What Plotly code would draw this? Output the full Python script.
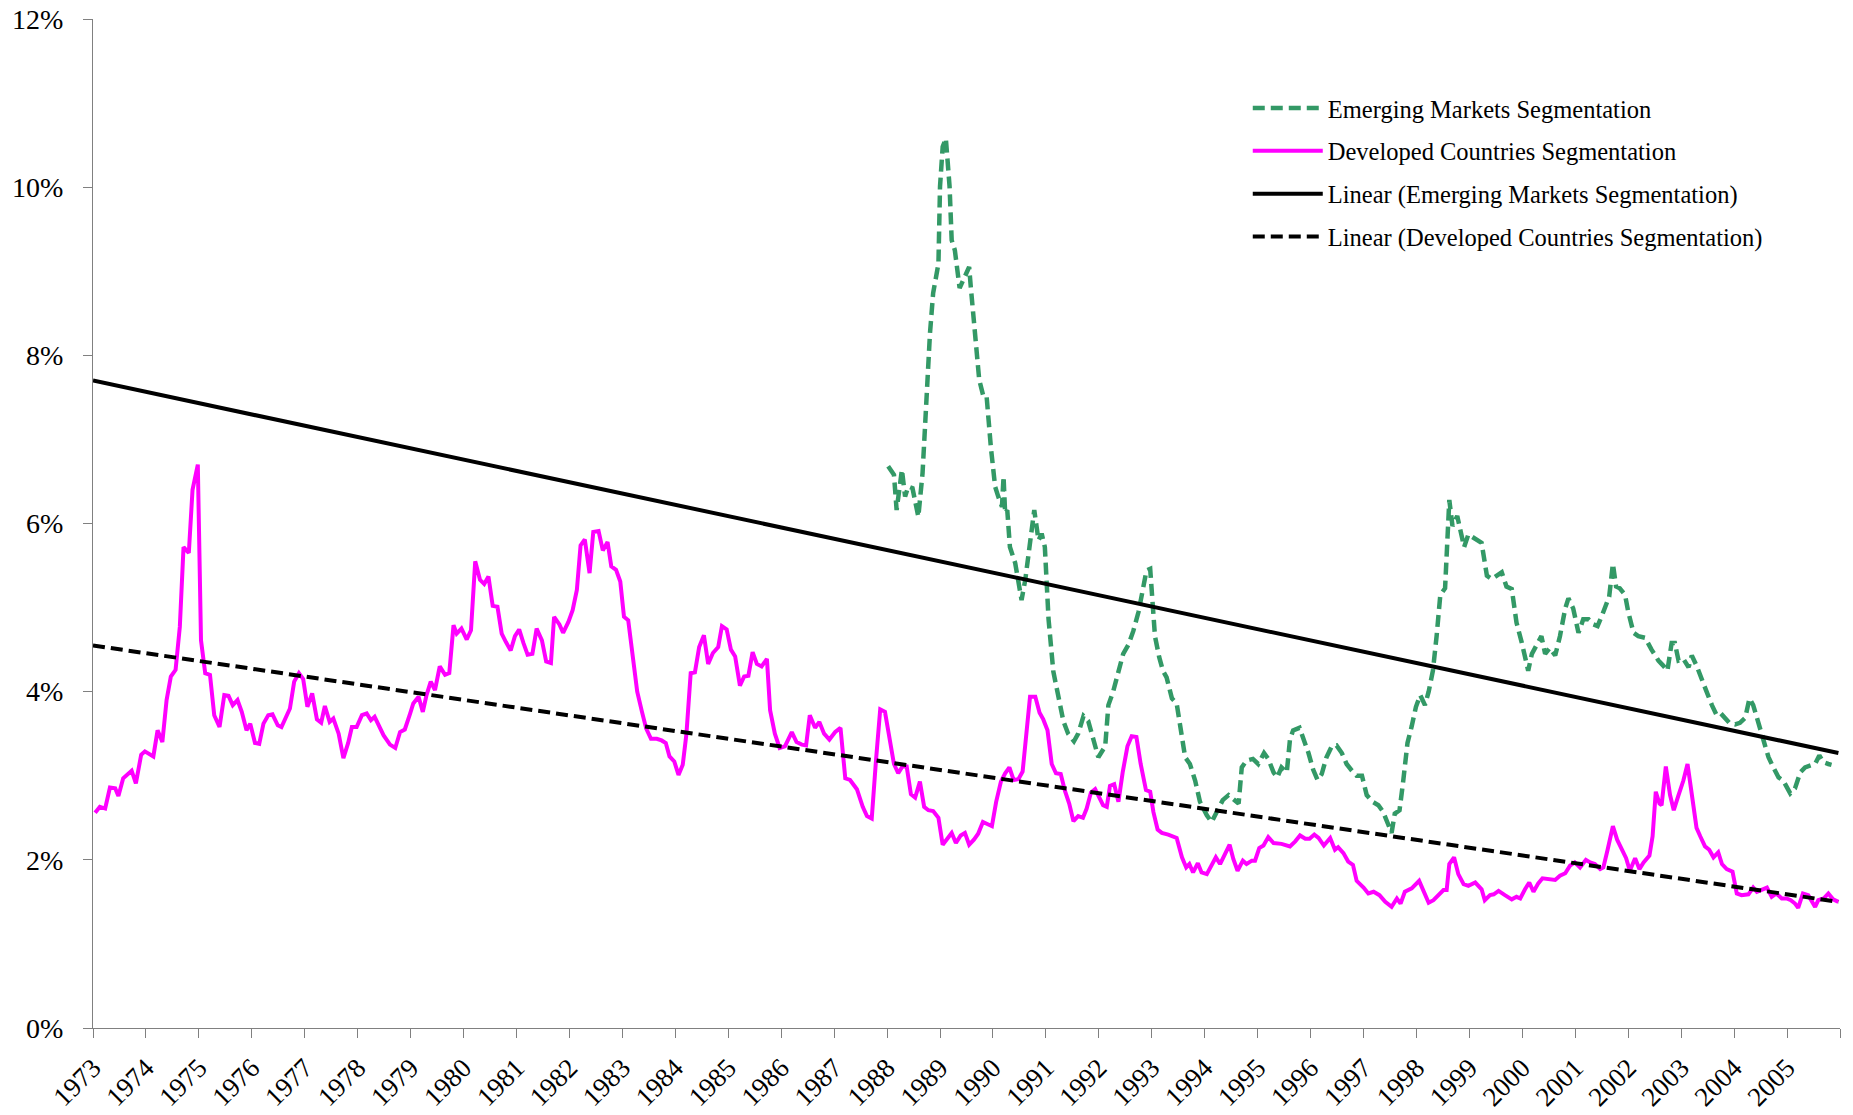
import plotly.graph_objects as go

# ---------------- data ----------------
dev_dates = [
    1973.04, 1973.13, 1973.23, 1973.32, 1973.42, 1973.48, 1973.57, 1973.73, 1973.81, 1973.91, 1973.98,
    1974.14, 1974.22, 1974.31, 1974.39, 1974.47, 1974.56, 1974.64, 1974.71, 1974.81, 1974.88, 1974.98,
    1975.04, 1975.12, 1975.21, 1975.29, 1975.39, 1975.48, 1975.56, 1975.64, 1975.73, 1975.81, 1975.90, 1975.97,
    1976.06, 1976.14, 1976.22, 1976.31, 1976.39, 1976.49, 1976.56, 1976.66, 1976.72, 1976.80, 1976.89, 1976.97,
    1977.05, 1977.14, 1977.23, 1977.31, 1977.38, 1977.47, 1977.54, 1977.64, 1977.73, 1977.82, 1977.89, 1977.98,
    1978.08, 1978.17, 1978.25, 1978.32, 1978.49, 1978.61, 1978.71, 1978.80, 1978.89, 1978.99,
    1979.05, 1979.15, 1979.23, 1979.30, 1979.38, 1979.46, 1979.55, 1979.65, 1979.73, 1979.81, 1979.87, 1979.96,
    1980.06, 1980.14, 1980.22, 1980.31, 1980.39, 1980.47, 1980.55, 1980.64, 1980.72, 1980.80, 1980.89, 1980.97,
    1981.05, 1981.13, 1981.21, 1981.30, 1981.38, 1981.48, 1981.56, 1981.65, 1981.71, 1981.81, 1981.88, 1981.98,
    1982.06, 1982.14, 1982.21, 1982.29, 1982.38, 1982.45, 1982.55, 1982.63, 1982.72, 1982.79, 1982.88, 1982.96,
    1983.03, 1983.11, 1983.19, 1983.28, 1983.37, 1983.45, 1983.54, 1983.65, 1983.74, 1983.82, 1983.89, 1983.98,
    1984.06, 1984.14, 1984.21, 1984.29, 1984.37, 1984.45, 1984.54, 1984.62, 1984.71, 1984.81, 1984.88, 1984.97,
    1985.05, 1985.13, 1985.22, 1985.30, 1985.38, 1985.46, 1985.54, 1985.63, 1985.73, 1985.79, 1985.88, 1985.97,
    1986.07, 1986.20, 1986.29, 1986.39, 1986.47, 1986.54, 1986.64, 1986.72, 1986.81, 1986.91,
    1987.02, 1987.12, 1987.21, 1987.30, 1987.43, 1987.54, 1987.62, 1987.71, 1987.79, 1987.87, 1987.96,
    1988.06, 1988.13, 1988.21, 1988.29, 1988.37, 1988.45, 1988.53, 1988.62, 1988.70, 1988.78, 1988.87, 1988.97,
    1989.05, 1989.14, 1989.22, 1989.30, 1989.39, 1989.47, 1989.55, 1989.64, 1989.72, 1989.81, 1989.89, 1989.98,
    1990.06, 1990.15, 1990.23, 1990.31, 1990.39, 1990.48, 1990.56, 1990.63, 1990.70, 1990.80, 1990.88, 1990.95,
    1991.03, 1991.11, 1991.19, 1991.28, 1991.36, 1991.44, 1991.52, 1991.61, 1991.70, 1991.77, 1991.85, 1991.93,
    1992.08, 1992.15, 1992.21, 1992.29, 1992.37, 1992.45, 1992.54, 1992.62, 1992.71, 1992.79, 1992.89, 1992.97,
    1993.03, 1993.11, 1993.19, 1993.31, 1993.47, 1993.57, 1993.65, 1993.71, 1993.78, 1993.87, 1993.94,
    1994.04, 1994.13, 1994.21, 1994.29, 1994.36, 1994.47, 1994.54, 1994.62, 1994.72, 1994.79, 1994.89, 1994.95,
    1995.03, 1995.11, 1995.20, 1995.30, 1995.45, 1995.61, 1995.71, 1995.80, 1995.90, 1995.98,
    1996.07, 1996.15, 1996.25, 1996.37, 1996.46, 1996.52, 1996.62, 1996.71, 1996.80, 1996.87,
    1997.00, 1997.09, 1997.19, 1997.30, 1997.41, 1997.53, 1997.63, 1997.70, 1997.78, 1997.91,
    1998.05, 1998.13, 1998.23, 1998.32, 1998.41, 1998.51, 1998.57, 1998.62, 1998.71, 1998.79, 1998.89, 1998.98,
    1999.11, 1999.23, 1999.29, 1999.39, 1999.46, 1999.55, 1999.67, 1999.80, 1999.89, 1999.96,
    2000.05, 2000.13, 2000.21, 2000.30, 2000.38, 2000.49, 2000.62, 2000.71, 2000.81, 2000.90, 2000.99,
    2001.09, 2001.20, 2001.28, 2001.37, 2001.47, 2001.53, 2001.61, 2001.71, 2001.79, 2001.88, 2001.96,
    2002.03, 2002.13, 2002.21, 2002.29, 2002.40, 2002.46, 2002.52, 2002.59, 2002.63, 2002.71, 2002.79, 2002.86, 2002.95,
    2003.04, 2003.12, 2003.20, 2003.29, 2003.36, 2003.45, 2003.53, 2003.61, 2003.70, 2003.77, 2003.86, 2003.97,
    2004.05, 2004.14, 2004.27, 2004.36, 2004.43, 2004.52, 2004.62, 2004.71, 2004.80, 2004.90, 2004.99,
    2005.07, 2005.15, 2005.21, 2005.30, 2005.40, 2005.47, 2005.53, 2005.59, 2005.69, 2005.78, 2005.87, 2005.97,
]
dev_values = [
    2.56, 2.63, 2.61, 2.86, 2.85, 2.76, 2.97, 3.06, 2.91, 3.25, 3.29,
    3.23, 3.54, 3.40, 3.90, 4.18, 4.26, 4.77, 5.72, 5.65, 6.40, 6.70,
    4.61, 4.22, 4.20, 3.72, 3.58, 3.96, 3.95, 3.84, 3.90, 3.76, 3.54, 3.62,
    3.39, 3.38, 3.62, 3.72, 3.73, 3.60, 3.58, 3.72, 3.80, 4.12, 4.22, 4.15,
    3.82, 3.98, 3.67, 3.63, 3.83, 3.64, 3.68, 3.50, 3.21, 3.39, 3.58, 3.58,
    3.72, 3.74, 3.66, 3.70, 3.48, 3.37, 3.33, 3.52, 3.55, 3.74,
    3.86, 3.94, 3.76, 3.96, 4.12, 4.02, 4.30, 4.20, 4.22, 4.79, 4.69, 4.75,
    4.62, 4.73, 5.55, 5.33, 5.28, 5.37, 5.02, 5.01, 4.69, 4.59, 4.49, 4.66,
    4.74, 4.58, 4.44, 4.45, 4.75, 4.61, 4.36, 4.34, 4.89, 4.80, 4.70, 4.83,
    4.97, 5.21, 5.74, 5.81, 5.41, 5.90, 5.91, 5.68, 5.78, 5.49, 5.45, 5.31,
    4.89, 4.85, 4.42, 4.00, 3.76, 3.56, 3.44, 3.44, 3.42, 3.39, 3.23, 3.17,
    3.01, 3.13, 3.50, 4.22, 4.23, 4.53, 4.67, 4.33, 4.46, 4.53, 4.78, 4.74,
    4.50, 4.42, 4.07, 4.18, 4.19, 4.47, 4.33, 4.30, 4.39, 3.78, 3.50, 3.33,
    3.35, 3.52, 3.40, 3.37, 3.36, 3.72, 3.57, 3.64, 3.50, 3.43,
    3.52, 3.57, 2.97, 2.95, 2.84, 2.63, 2.52, 2.49, 3.18, 3.79, 3.76,
    3.39, 3.14, 3.03, 3.11, 3.11, 2.78, 2.74, 2.93, 2.63, 2.59, 2.58, 2.50,
    2.18, 2.25, 2.32, 2.20, 2.29, 2.32, 2.18, 2.24, 2.31, 2.45, 2.42, 2.40,
    2.69, 2.93, 3.03, 3.10, 2.95, 2.96, 3.05, 3.48, 3.94, 3.94, 3.75, 3.67,
    3.54, 3.14, 3.03, 3.02, 2.82, 2.67, 2.46, 2.52, 2.50, 2.61, 2.80, 2.84,
    2.65, 2.63, 2.88, 2.90, 2.69, 3.04, 3.35, 3.47, 3.46, 3.14, 2.83, 2.81,
    2.57, 2.36, 2.32, 2.30, 2.26, 2.03, 1.91, 1.95, 1.85, 1.96, 1.85,
    1.83, 1.93, 2.03, 1.95, 2.05, 2.18, 2.01, 1.87, 1.99, 1.95, 1.99, 1.99,
    2.14, 2.17, 2.27, 2.20, 2.19, 2.16, 2.22, 2.29, 2.25, 2.25,
    2.30, 2.26, 2.17, 2.26, 2.12, 2.15, 2.08, 1.98, 1.94, 1.75,
    1.67, 1.60, 1.62, 1.58, 1.50, 1.44, 1.54, 1.48, 1.62, 1.66,
    1.75, 1.62, 1.49, 1.52, 1.58, 1.64, 1.64, 1.95, 2.03, 1.83, 1.71, 1.69,
    1.73, 1.65, 1.52, 1.58, 1.59, 1.63, 1.58, 1.53, 1.56, 1.54,
    1.65, 1.73, 1.62, 1.72, 1.78, 1.77, 1.76, 1.81, 1.84, 1.93, 1.97,
    1.91, 2.00, 1.97, 1.95, 1.89, 1.91, 2.12, 2.40, 2.24, 2.12, 2.02,
    1.87, 2.02, 1.89, 1.97, 2.05, 2.28, 2.81, 2.67, 2.65, 3.11, 2.77, 2.59, 2.77,
    2.94, 3.14, 2.77, 2.38, 2.28, 2.16, 2.12, 2.03, 2.09, 1.95, 1.89, 1.86,
    1.60, 1.58, 1.59, 1.67, 1.62, 1.65, 1.67, 1.56, 1.60, 1.54, 1.54,
    1.52, 1.48, 1.43, 1.60, 1.58, 1.50, 1.44, 1.52, 1.54, 1.60, 1.53, 1.50,
]

em_dates = [
    1988.02, 1988.13, 1988.18, 1988.28, 1988.34, 1988.40, 1988.48, 1988.56, 1988.59, 1988.67, 1988.72, 1988.76,
    1988.81, 1988.87, 1988.97, 1989.00, 1989.05, 1989.11, 1989.18, 1989.22, 1989.28, 1989.37, 1989.47, 1989.55,
    1989.58, 1989.66, 1989.74, 1989.82, 1989.88, 1989.96, 1990.04, 1990.10, 1990.17, 1990.20, 1990.23, 1990.27,
    1990.32, 1990.42, 1990.54, 1990.61, 1990.70, 1990.78, 1990.86, 1990.92, 1990.98, 1991.05,
    1991.14, 1991.24, 1991.33, 1991.42, 1991.53, 1991.61, 1991.71, 1991.80, 1991.90, 1991.99,
    1992.12, 1992.18, 1992.27, 1992.37, 1992.46, 1992.56, 1992.65, 1992.75, 1992.84, 1992.90, 1992.97,
    1993.00, 1993.06, 1993.14, 1993.21, 1993.28, 1993.38, 1993.47, 1993.53, 1993.63, 1993.72, 1993.82, 1993.91,
    1994.04, 1994.13, 1994.23, 1994.34, 1994.45, 1994.54, 1994.64, 1994.70, 1994.79, 1994.91,
    1995.01, 1995.12, 1995.20, 1995.30, 1995.37, 1995.45, 1995.55, 1995.61, 1995.67, 1995.79, 1995.88, 1995.96,
    1996.05, 1996.13, 1996.21, 1996.30, 1996.40, 1996.49, 1996.59, 1996.68, 1996.78, 1996.87, 1996.97,
    1997.06, 1997.17, 1997.28, 1997.37, 1997.47, 1997.53, 1997.59, 1997.68, 1997.75, 1997.83, 1997.91, 1997.99,
    1998.07, 1998.16, 1998.23, 1998.31, 1998.38, 1998.45, 1998.54, 1998.58, 1998.62, 1998.68, 1998.77, 1998.84,
    1998.90, 1998.98, 1999.11, 1999.23, 1999.33, 1999.42, 1999.61, 1999.70, 1999.80, 1999.89, 1999.99,
    2000.11, 2000.18, 2000.27, 2000.36, 2000.43, 2000.52, 2000.62, 2000.71, 2000.81, 2000.87, 2000.96,
    2001.06, 2001.15, 2001.25, 2001.34, 2001.42, 2001.50, 2001.56, 2001.64, 2001.71, 2001.77, 2001.84, 2001.94,
    2002.00, 2002.10, 2002.19, 2002.32, 2002.44, 2002.57, 2002.66, 2002.74, 2002.82, 2002.88, 2002.95,
    2003.04, 2003.14, 2003.20, 2003.29, 2003.39, 2003.48, 2003.58, 2003.67, 2003.75, 2003.83, 2003.91,
    2004.02, 2004.11, 2004.21, 2004.29, 2004.36, 2004.46, 2004.55, 2004.65, 2004.74, 2004.84, 2004.93, 2004.99,
    2005.06, 2005.15, 2005.25, 2005.34, 2005.43, 2005.53, 2005.61, 2005.69, 2005.78, 2005.84,
]
em_values = [
    6.68, 6.58, 6.16, 6.64, 6.32, 6.44, 6.42, 6.12, 6.08, 6.60, 7.23, 7.79,
    8.26, 8.74, 9.09, 10.01, 10.48, 10.58, 10.01, 9.37, 9.25, 8.80, 8.94, 9.05,
    8.82, 8.22, 7.71, 7.51, 7.51, 6.91, 6.44, 6.32, 6.20, 6.56, 6.12, 6.16,
    5.72, 5.53, 5.09, 5.33, 5.77, 6.16, 5.80, 5.88, 5.72, 4.86,
    4.24, 3.94, 3.65, 3.50, 3.41, 3.50, 3.71, 3.65, 3.43, 3.22,
    3.35, 3.84, 4.00, 4.25, 4.45, 4.56, 4.72, 4.95, 5.23, 5.44, 5.46,
    5.15, 4.66, 4.41, 4.25, 4.17, 3.92, 3.86, 3.59, 3.22, 3.14, 2.94, 2.69,
    2.53, 2.45, 2.57, 2.71, 2.77, 2.73, 2.67, 3.10, 3.18, 3.20,
    3.14, 3.27, 3.20, 3.04, 2.98, 3.10, 3.04, 3.43, 3.54, 3.57, 3.43, 3.27,
    3.07, 2.95, 3.02, 3.22, 3.35, 3.36, 3.27, 3.14, 3.06, 3.00, 3.00,
    2.77, 2.69, 2.65, 2.57, 2.42, 2.32, 2.55, 2.59, 2.94, 3.39, 3.59, 3.82,
    3.96, 3.84, 4.00, 4.25, 4.66, 5.15, 5.23, 5.81, 6.28, 5.97, 6.09, 5.89,
    5.72, 5.87, 5.81, 5.77, 5.38, 5.34, 5.42, 5.25, 5.22, 4.82, 4.58,
    4.25, 4.45, 4.56, 4.66, 4.45, 4.52, 4.43, 4.66, 4.99, 5.11, 4.99,
    4.70, 4.86, 4.86, 4.80, 4.78, 4.90, 5.00, 5.13, 5.52, 5.25, 5.23, 5.15,
    4.95, 4.70, 4.66, 4.64, 4.50, 4.37, 4.31, 4.25, 4.58, 4.58, 4.37,
    4.39, 4.29, 4.43, 4.31, 4.13, 4.00, 3.84, 3.72, 3.74, 3.68, 3.63,
    3.61, 3.63, 3.69, 3.92, 3.84, 3.61, 3.43, 3.22, 3.10, 2.98, 2.94, 2.88,
    2.79, 2.85, 3.04, 3.10, 3.12, 3.14, 3.24, 3.16, 3.14, 3.13,
]

# Linear trend lines (end points)
trend_dates = [1973.0, 2005.97]
em_trend = [7.70, 3.27]
dev_trend = [4.55, 1.50]

year_ticks = list(range(1973, 2007))
year_labels = [str(y) for y in range(1973, 2006)] + [""]
y_ticks = [0, 2, 4, 6, 8, 10, 12]
y_labels = ["0%", "2%", "4%", "6%", "8%", "10%", "12%"]

# ---------------- figure ----------------
FONT = "Liberation Serif, Times New Roman, serif"
fig = go.Figure()

fig.add_trace(go.Scatter(
    x=em_dates, y=em_values, mode="lines", name="Emerging Markets Segmentation",
    legendgroup="a",
    line=dict(color="#339966", width=4.5, dash="12px,6px")))
fig.add_trace(go.Scatter(
    x=dev_dates, y=dev_values, mode="lines", name="Developed Countries Segmentation",
    legendgroup="b",
    line=dict(color="#FF00FF", width=4)))
fig.add_trace(go.Scatter(
    x=trend_dates, y=em_trend, mode="lines", name="Linear (Emerging Markets Segmentation)",
    legendgroup="c",
    line=dict(color="#000000", width=4)))
fig.add_trace(go.Scatter(
    x=trend_dates, y=dev_trend, mode="lines", name="Linear (Developed Countries Segmentation)",
    legendgroup="d",
    line=dict(color="#000000", width=4, dash="12px,6px")))

fig.update_layout(
    template="none",
    width=1845, height=1107,
    margin=dict(l=85, r=13, t=11, b=87, autoexpand=False),
    paper_bgcolor="white", plot_bgcolor="white",
    font=dict(family=FONT, size=28, color="black"),
    showlegend=True,
    legend=dict(
        x=0.661, y=0.934, xanchor="left", yanchor="top",
        font=dict(family=FONT, size=24.5, color="black"),
        bgcolor="rgba(0,0,0,0)", borderwidth=0,
        itemwidth=70, tracegroupgap=8,
    ),
    xaxis=dict(
        range=[1973, 2006], tickmode="array", tickvals=year_ticks, ticktext=year_labels,
        tickangle=-45, ticks="outside", ticklen=9, tickwidth=1.3, tickcolor="#808080",
        showline=True, linecolor="#808080", linewidth=1.3, showgrid=False, zeroline=False,
        automargin=False, ticklabelstandoff=3, ticklabeloverflow="allow",
        tickfont=dict(family=FONT, size=27, color="black"),
    ),
    yaxis=dict(
        range=[0, 12], tickmode="array", tickvals=y_ticks, ticktext=y_labels,
        ticks="outside", ticklen=9, tickwidth=1.3, tickcolor="#808080",
        showline=True, linecolor="#808080", linewidth=1.3, showgrid=False, zeroline=False,
        automargin=False, ticklabelstandoff=14, ticklabeloverflow="allow",
        tickfont=dict(family=FONT, size=28, color="black"),
    ),
)

fig.write_html("out.html")
